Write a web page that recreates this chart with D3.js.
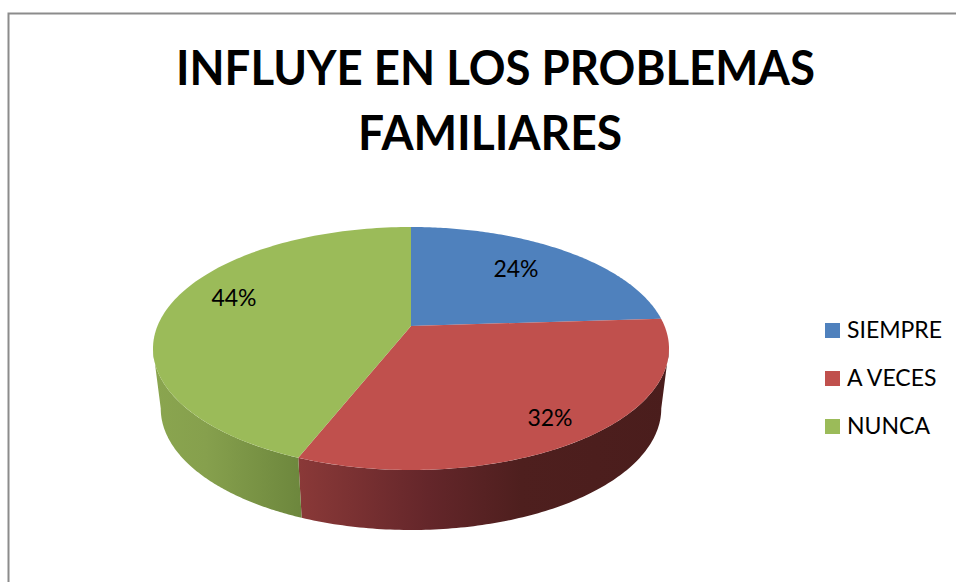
<!DOCTYPE html>
<html>
<head>
<meta charset="utf-8">
<script src="https://cdn.jsdelivr.net/npm/d3@7/dist/d3.min.js"></script>
<style>
html,body{margin:0;padding:0;background:#fff}
svg{display:block}
text{font-family:Lato,"Open Sans",sans-serif;fill:#000}
</style>
</head>
<body>
<svg id="chart" width="956" height="582"></svg>
<script>
const titleLines = ["INFLUYE EN LOS PROBLEMAS", "FAMILIARES"];
const categories = ["SIEMPRE", "A VECES", "NUNCA"];
const values = [24, 32, 44];
const colours = ["#4f81bd", "#c0504d", "#9bbb59"];

// layout (pixels)
const cx = 411, cy = 348.5, rx = 258, ry = 121.5, apexRise = 22.5, depth = 60, wallNarrow = 0.97;
const labelAnchors = [[516, 269], [550, 418], [234, 298]];
const legendX = 825, legendYs = [323, 371, 419];
const titleWidths = [639, 264], titleCentres = [495.5, 490];

const svg = d3.select("#chart");
const defs = svg.append("defs");

const colour = d3.scaleOrdinal().domain(categories).range(colours);
const arcs = d3.pie().sort(null).value(d => d)(values);

// Perspective mapping of a unit disc on to the tilted ellipse
const persp = -apexRise / ry;
const dx = rx * Math.sqrt(1 - persp * persp);
function project(theta, wall) {
  const x = Math.sin(theta), y = -Math.cos(theta);
  const w = 1 + persp * y;
  const px = dx * x / w, py = (ry * y - apexRise) / w;
  return wall ? [cx + px * wallNarrow, cy + py + depth] : [cx + px, cy + py];
}
const line = d3.line();
const samples = (a0, a1, wall) => d3.range(0, 121).map(i => project(a0 + (a1 - a0) * i / 120, wall));

// Silhouette angles: ellipse extremes on the left and on the right
const rightExtreme = Math.PI - Math.acos(apexRise / ry);
const leftExtreme = 2 * Math.PI - rightExtreme;

// Wall gradients
function gradient(id, x1, x2, stops) {
  const g = defs.append("linearGradient").attr("id", id)
    .attr("gradientUnits", "userSpaceOnUse")
    .attr("x1", x1).attr("x2", x2).attr("y1", 0).attr("y2", 0);
  stops.forEach(s => g.append("stop").attr("offset", s[0]).attr("stop-color", s[1]));
}
gradient("wall-1", 299, 670, [[0, "#8a3938"], [0.35, "#64262a"], [0.6, "#4e1f1e"], [1, "#4a1d1c"]]);
gradient("wall-2", 155, 300, [[0, "#8aa54f"], [0.35, "#86a04d"], [1, "#6d873d"]]);

// Walls
arcs.forEach((a, i) => {
  const from = Math.max(a.startAngle, rightExtreme);
  const to = Math.min(a.endAngle, leftExtreme);
  if (to <= from) return;
  const pts = samples(from, to, false).concat(samples(to, from, true));
  svg.append("path").attr("d", line(pts) + "Z")
    .attr("fill", `url(#wall-${i})`);
});

// Top face
const apex = [cx, cy - apexRise];
arcs.forEach((a, i) => {
  const pts = [apex].concat(samples(a.startAngle, a.endAngle, false));
  svg.append("path").attr("d", line(pts) + "Z").attr("fill", colour(categories[i]));
});

// Chart frame (only the left and top edges are visible)
svg.append("path").attr("d", "M8.5,582V13.5H956").attr("fill", "none")
  .attr("stroke", "#8c8c8c").attr("stroke-width", 2);

// Percent labels
values.forEach((v, i) => {
  svg.append("text").attr("x", labelAnchors[i][0]).attr("y", labelAnchors[i][1] + 8)
    .attr("text-anchor", "middle").attr("font-size", 23).text(v + "%");
});

// Legend
categories.forEach((c, i) => {
  svg.append("rect").attr("x", legendX).attr("y", legendYs[i]).attr("width", 15).attr("height", 15)
    .attr("fill", colour(c));
  svg.append("text").attr("x", legendX + 22).attr("y", legendYs[i] + 15)
    .attr("font-size", 23).text(c);
});

// Title
titleLines.forEach((t, i) => {
  svg.append("text").attr("x", titleCentres[i]).attr("y", 85 + i * 65)
    .attr("text-anchor", "middle").attr("font-size", 48).attr("font-weight", 700)
    .attr("textLength", titleWidths[i]).attr("lengthAdjust", "spacingAndGlyphs").text(t);
});
</script>
</body>
</html>
